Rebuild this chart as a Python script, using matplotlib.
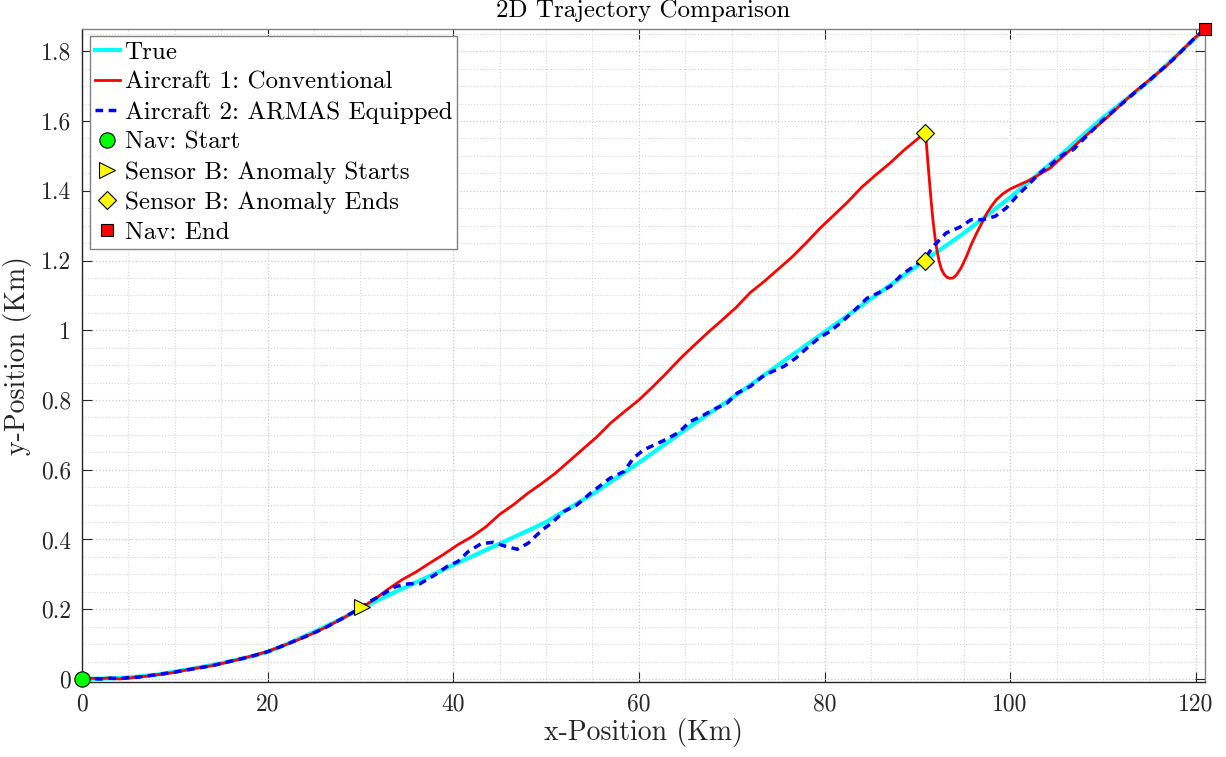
import matplotlib
matplotlib.use("Agg")
import matplotlib.pyplot as plt
from matplotlib.ticker import MultipleLocator, FuncFormatter

plt.rcParams['font.family'] = 'serif'
plt.rcParams['font.serif'] = ['cmr10']
plt.rcParams['axes.formatter.use_mathtext'] = True
plt.rcParams['axes.unicode_minus'] = False

# True trajectory (km)
true_x = [0, 2, 5, 8, 10, 12, 15, 18, 20, 22, 25, 28, 30.2, 35, 40, 45, 50, 55, 60, 65,
          70, 75, 80, 85, 90.8, 95, 100, 105, 110, 115, 121]
true_y = [0, 0.001, 0.004, 0.012, 0.021, 0.03, 0.045, 0.063, 0.078, 0.099, 0.135, 0.173,
          0.205, 0.265, 0.327, 0.388, 0.45, 0.53, 0.62, 0.715, 0.805, 0.9, 0.995, 1.09,
          1.2, 1.278, 1.381, 1.492, 1.61, 1.715, 1.864]

# Aircraft 1: conventional
red_x = [0, 1, 2, 3, 4, 5, 6, 7, 8, 9, 10, 12, 14, 16, 18, 20, 22, 24, 26, 28, 30.2,
         31.5, 33, 34.5, 36, 37.5, 39, 40.5, 42, 43.5, 45, 46.5, 48, 49.5, 51, 52.5, 54,
         55.5, 57, 58.5, 60, 61.5, 63, 64.5, 66, 67.5, 69, 70.5, 72, 73.5, 75, 76.5, 78,
         79.5, 81, 82.5, 84, 85.5, 87, 88.5, 90, 90.8, 90.95, 91.1, 91.3, 91.5, 91.7,
         91.9, 92.1, 92.35, 92.6, 92.9, 93.2, 93.5, 93.85, 94.2, 94.7, 95.3, 95.8, 96.4,
         97.0, 97.5, 98.0, 98.5, 99.2, 100, 101.8, 102.8, 104.3, 106.1, 107.9, 110.4,
         113.3, 116.8, 119.7, 121]
red_y = [0.000, 0.002, 0.001, 0.003, 0.000, 0.002, 0.006, 0.008, 0.012, 0.015, 0.019,
         0.030, 0.038, 0.050, 0.064, 0.079, 0.099, 0.120, 0.145, 0.172, 0.207,
         0.228, 0.258, 0.285, 0.307, 0.333, 0.358, 0.385, 0.408, 0.436, 0.472, 0.500,
         0.532, 0.560, 0.590, 0.625, 0.660, 0.695, 0.735, 0.768, 0.800, 0.838, 0.878,
         0.920, 0.958, 0.995, 1.030, 1.066, 1.108, 1.140, 1.175, 1.210, 1.250, 1.292,
         1.330, 1.368, 1.410, 1.445, 1.478, 1.515, 1.548, 1.566, 1.545, 1.495, 1.430,
         1.368, 1.312, 1.268, 1.232, 1.198, 1.175, 1.160, 1.152, 1.149, 1.150, 1.158,
         1.178, 1.212, 1.245, 1.279, 1.310, 1.336, 1.356, 1.374, 1.391, 1.405, 1.427,
         1.441, 1.465, 1.508, 1.552, 1.609, 1.681, 1.757, 1.834, 1.864]

# Aircraft 2: ARMAS equipped
blue_x = [0, 1, 2, 3, 4, 5, 6, 7, 8, 10, 12, 14, 16, 18, 20, 22, 24, 26, 28, 30.2, 31,
          32.6, 33.8, 35.2, 36.4, 38, 39.3, 40.5, 41.6, 43, 44.3, 45.7, 46.9, 48.1, 49.6,
          50.6, 51.9, 53.3, 54.8, 56.9, 58.4, 59.4, 60.5, 61.9, 63, 64.3, 65.5, 67, 68,
          69.5, 70.6, 72, 73.3, 74.4, 75.6, 76.9, 78.1, 79.4, 80.6, 81.9, 83.1, 84.6,
          85.8, 87.1, 88.3, 89.6, 90.8, 91.7, 93.1, 94.6, 95.8, 97.1, 98.4, 99.6, 100.7,
          101.8, 103.2, 104.6, 105.7, 106.8, 108.2, 110, 112.5, 115, 117.5, 119.7, 121]
blue_y = [0.000, 0.001, 0.000, 0.002, 0.001, 0.004, 0.005, 0.009, 0.012, 0.020, 0.029,
          0.038, 0.051, 0.063, 0.078, 0.099, 0.121, 0.144, 0.173, 0.207, 0.222, 0.246,
          0.265, 0.273, 0.273, 0.298, 0.322, 0.337, 0.365, 0.388, 0.392, 0.380, 0.372,
          0.390, 0.428, 0.447, 0.480, 0.499, 0.533, 0.576, 0.595, 0.633, 0.657, 0.674,
          0.688, 0.707, 0.738, 0.757, 0.772, 0.791, 0.820, 0.839, 0.867, 0.882, 0.896,
          0.920, 0.949, 0.978, 0.997, 1.025, 1.054, 1.092, 1.107, 1.126, 1.159, 1.183,
          1.205, 1.240, 1.279, 1.296, 1.317, 1.317, 1.327, 1.351, 1.384, 1.413, 1.451,
          1.480, 1.504, 1.518, 1.556, 1.603, 1.660, 1.717, 1.775, 1.833, 1.864]

# event markers
start_pt = (0, 0)
anom_start = (30.2, 0.207)
anom_end_x = [90.8, 90.8]
anom_end_y = [1.566, 1.2]
end_pt = (121, 1.864)

fig = plt.figure(figsize=(12.26, 7.57), dpi=100)
ax = fig.add_axes([0.0669, 0.0991, 0.916, 0.8626])

ax.plot(true_x, true_y, color='#00FFFF', lw=3, label='True', zorder=3)
ax.plot(red_x, red_y, color='#FF0000', lw=2, label='Aircraft 1: Conventional', zorder=4)
ax.plot(blue_x, blue_y, color='#0000FF', lw=2.5, dashes=(2.2, 1.6),
        label='Aircraft 2: ARMAS Equipped', zorder=5)
ax.plot(*start_pt, 'o', ms=11, mfc='#00FF00', mec='k', mew=0.8, label='Nav: Start',
        zorder=6, clip_on=False)
ax.plot(*anom_start, '>', ms=11, mfc='#FFFF00', mec='k', mew=0.8,
        label='Sensor B: Anomaly Starts', zorder=6)
ax.plot(anom_end_x, anom_end_y, 'D', ms=9, mfc='#FFFF00', mec='k', mew=0.8, ls='none',
        label='Sensor B: Anomaly Ends', zorder=6)
ax.plot(*end_pt, 's', ms=8, mfc='#FF0000', mec='k', mew=0.8, label='Nav: End',
        zorder=6, clip_on=False)

ax.set_xlim(0, 121)
ax.set_ylim(-0.0086, 1.864)
ax.xaxis.set_major_locator(MultipleLocator(20))
ax.xaxis.set_minor_locator(MultipleLocator(5))
ax.yaxis.set_major_locator(MultipleLocator(0.2))
ax.yaxis.set_minor_locator(MultipleLocator(0.05))
fmt = FuncFormatter(lambda v, p: '%g' % round(v, 2))
ax.xaxis.set_major_formatter(fmt)
ax.yaxis.set_major_formatter(fmt)

ax.grid(True, which='major', ls=':', color='#c8c8c8', lw=0.9)
ax.grid(True, which='minor', ls=':', color='#d6d6d6', lw=0.8)
ax.set_axisbelow(True)
ax.tick_params(which='major', direction='in', length=7, width=0.8, top=True,
               right=True, labelsize=17, colors='#262626', pad=8)
ax.tick_params(which='minor', length=0, top=True, right=True)
for s in ['left', 'bottom']:
    ax.spines[s].set_color('#262626')
for s in ['top', 'right']:
    ax.spines[s].set_color('#808080')
for s in ax.spines.values():
    s.set_linewidth(1.0)

ax.set_xlabel('x-Position (Km)', fontsize=20, color='#262626', labelpad=2)
ax.set_ylabel('y-Position (Km)', fontsize=20, color='#262626', labelpad=6)
ax.set_title('2D Trajectory Comparison', fontsize=18, pad=8.5)

leg = ax.legend(loc='upper left', fontsize=18, handlelength=1.0, handletextpad=0.2,
                labelspacing=0.3, borderpad=0.2, borderaxespad=0.3, fancybox=False,
                framealpha=1, edgecolor='#808080')
leg.get_frame().set_linewidth(1.0)

fig.savefig('out.png', dpi=100)
